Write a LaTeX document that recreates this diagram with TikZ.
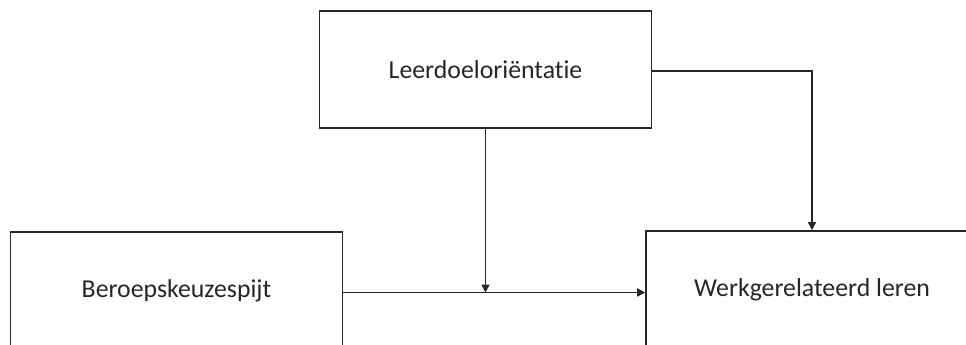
\documentclass[tikz,border=0pt]{standalone}
\usepackage{fontspec}
\setmainfont{Carlito}[RawFeature={-liga;-clig;-calt;-dlig}]
\usetikzlibrary{arrows.meta}
\begin{document}
\begin{tikzpicture}[x=1pt,y=-1pt,
  box/.style={draw=black!85,line width=1.6pt,minimum width=332pt,minimum height=117pt,
    inner sep=0pt,font=\fontsize{25.8}{30}\selectfont,text=black!85},
  link/.style={draw=black!85,line width=1.6pt,-{Triangle[length=8pt,width=8pt]}}]
\useasboundingbox (0,0) rectangle (966,345);
\clip (0,0) rectangle (966,345);
\node[box] (tb) at (485.5,69.5) {Leerdoeloriëntatie};
\node[box] (lb) at (176.5,290.5) {Beroepskeuzespijt};
\node[box] (rb) at (812,289.5) {Werkgerelateerd leren};
\coordinate (ls) at ([yshift=-2pt]lb.east);
\coordinate (m) at (tb.south |- ls);
\draw[link] (ls) -- (rb.west |- ls);
\draw[link] (tb.south) -- (m);
\draw[link] ([yshift=-1.5pt]tb.east) -| (rb.north);
\end{tikzpicture}
\end{document}
